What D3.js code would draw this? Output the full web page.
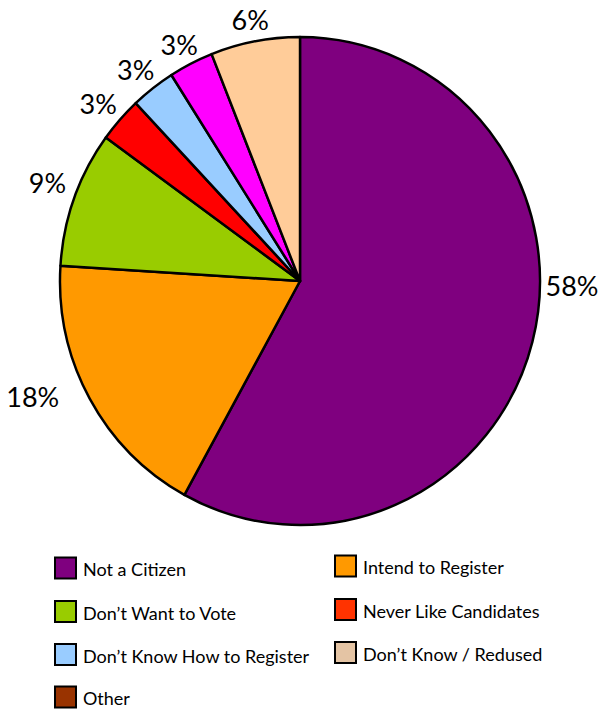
<!DOCTYPE html>
<html>
<head>
<meta charset="utf-8">
<script src="https://cdn.jsdelivr.net/npm/d3@7"></script>
<style>
  html, body { margin: 0; padding: 0; background: #fff; }
  svg { display: block; font-family: "Lato", "Open Sans", sans-serif; }
</style>
</head>
<body>
<svg id="chart" width="600" height="711"></svg>
<script>
// Reasons for not registering to vote (share of respondents, %)
const sliceNames = ["Not a Citizen", "Intend to Register", "Don’t Want to Vote",
  "Never Like Candidates", "Don’t Know How to Register", "Other", "Don’t Know / Redused"];
const sliceValues = [58, 18, 9, 3, 3, 3, 6];
const sliceColors = ["#7F007F", "#FF9900", "#99CC00", "#FF0000", "#99CCFF", "#FF00FF", "#FFCC99"];

// Legend entries, listed row by row across two columns
const legendNames = ["Not a Citizen", "Intend to Register", "Don’t Want to Vote",
  "Never Like Candidates", "Don’t Know How to Register", "Don’t Know / Redused", "Other"];
const legendColors = ["#7F007F", "#FF9900", "#99CC00", "#FF3300", "#99CCFF", "#E4C4A4", "#993300"];

const svg = d3.select("#chart");
const cx = 300, cy = 281, radius = 244;
const xSquash = 240 / 244;   // the pie is drawn very slightly narrower than tall

const pie = d3.pie().sort(null).value(d => d.value).startAngle(0).endAngle(2 * Math.PI);
const arcs = pie(sliceNames.map((name, i) => ({ name, value: sliceValues[i], color: sliceColors[i] })));
const arc = d3.arc().innerRadius(0).outerRadius(radius);

const g = svg.append("g").attr("transform", `translate(${cx},${cy}) scale(${xSquash},1)`);

g.selectAll("path.slice")
  .data(arcs)
  .join("path")
  .attr("class", "slice")
  .attr("d", arc)
  .attr("fill", d => d.data.color)
  .attr("stroke", "#000")
  .attr("stroke-width", 2.5)
  .attr("stroke-linejoin", "round");

// Percentage labels sit just outside the rim; the large slices are shifted
// a little along the rim to keep their labels clear of the legend.
const labelShift = [-13.4, 5.5, 1.5, 0, 0, 0, 0];      // degrees
const labelRadius = [272, 291, 271, 269, 268, 266, 266];
const fmt = v => `${v}%`;

const lg = svg.append("g").attr("transform", `translate(${cx},${cy + 1})`);
lg.selectAll("text.pct")
  .data(arcs)
  .join("text")
  .attr("class", "pct")
  .attr("x", (d, i) => {
    const a = (d.startAngle + d.endAngle) / 2 + labelShift[i] * Math.PI / 180;
    return labelRadius[i] * Math.sin(a);
  })
  .attr("y", (d, i) => {
    const a = (d.startAngle + d.endAngle) / 2 + labelShift[i] * Math.PI / 180;
    return -labelRadius[i] * Math.cos(a);
  })
  .attr("dy", "0.36em")
  .attr("text-anchor", "middle")
  .attr("font-size", 27)
  .attr("fill", "#000")
  .text(d => fmt(d.data.value));

// Legend: two columns of swatches with names
const colX = [55, 335];
const rowY = [568, 611.5, 654.5, 697];
const colYOffset = [0, -2];

const legend = svg.append("g");
const items = legend.selectAll("g.item")
  .data(legendNames.map((name, i) => ({ name, color: legendColors[i], col: i % 2, row: Math.floor(i / 2) })))
  .join("g")
  .attr("class", "item")
  .attr("transform", d => `translate(${colX[d.col]},${rowY[d.row] + colYOffset[d.col]})`);

items.append("rect")
  .attr("x", 0).attr("y", -10.5)
  .attr("width", 21).attr("height", 21)
  .attr("fill", d => d.color)
  .attr("stroke", "#000")
  .attr("stroke-width", 2);

items.append("text")
  .attr("x", 28)
  .attr("y", 8)
  .attr("font-size", 18)
  .attr("fill", "#000")
  .text(d => d.name);
</script>
</body>
</html>
